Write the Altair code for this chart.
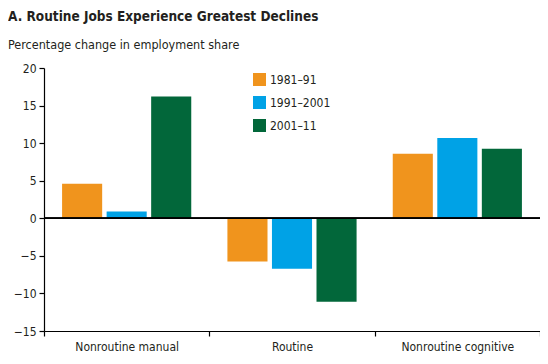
import altair as alt
import pandas as pd

categories = ["Nonroutine manual", "Routine", "Nonroutine cognitive"]
periods = ["1981–91", "1991–2001", "2001–11"]
v1981_91 = [4.6, -5.75, 8.6]
v1991_2001 = [0.9, -6.7, 10.7]
v2001_11 = [16.2, -11.1, 9.25]
colors = ["#F0941D", "#00A2E6", "#02673A"]
y_ticks = [-15, -10, -5, 0, 5, 10, 15, 20]

rows = []
for i, c in enumerate(categories):
    for p, vals in zip(periods, [v1981_91, v1991_2001, v2001_11]):
        rows.append({"category": c, "period": p, "value": vals[i]})
df = pd.DataFrame(rows)

FONT = "'DejaVu Sans Condensed', 'Liberation Sans', sans-serif"
TXT = "#231F20"

y_axis = alt.Axis(title=None, values=y_ticks, tickCount=len(y_ticks), grid=False,
                  tickSize=5, labelPadding=3, labelFontSize=12, labelOverlap=False,
                  labelFlush=False)

bars = alt.Chart(df).mark_bar().encode(
    x=alt.X("category:N", sort=categories,
            scale=alt.Scale(paddingInner=0, paddingOuter=0),
            axis=alt.Axis(title=None, labelAngle=0, tickBand="extent",
                          tickSize=5, labelPadding=5, labelFontSize=12)),
    xOffset=alt.XOffset("period:N", sort=periods,
                        scale=alt.Scale(paddingInner=0.1, paddingOuter=0.406)),
    y=alt.Y("value:Q", scale=alt.Scale(domain=[-15, 20], nice=False, zero=False),
            axis=y_axis),
    color=alt.Color("period:N", sort=periods,
                    scale=alt.Scale(domain=periods, range=colors),
                    legend=alt.Legend(title=None, orient="none", legendX=209, legendY=5,
                                      symbolType="square", symbolSize=169,
                                      symbolStrokeWidth=0, rowPadding=10,
                                      labelOffset=4, labelFontSize=12, padding=0)),
)

zero = alt.Chart(df).mark_rule(color="#000000", strokeWidth=1.2).encode(
    y=alt.datum(0, axis=y_axis))

chart = alt.layer(bars, zero).properties(
    width=496, height=263,
    autosize=alt.AutoSizeParams(type="none"),
    padding={"left": 36, "top": 60, "right": 0, "bottom": 25},
    title=alt.TitleParams(
        text="A. Routine Jobs Experience Greatest Declines",
        subtitle="Percentage change in employment share",
        anchor="start", frame="group", dx=-36, fontSize=13.5, fontWeight="bold",
        subtitleFontSize=12.5, subtitlePadding=15, offset=11,
        font=FONT, subtitleFont=FONT, color=TXT, subtitleColor=TXT,
    ),
).configure_view(stroke=None).configure_axis(
    domainColor="#000000", tickColor="#000000", labelColor=TXT,
    labelFont=FONT, domainWidth=1.2, tickWidth=1.2,
).configure_axisY(labelOverlap=False).configure_legend(labelFont=FONT, labelColor=TXT)

chart.save("out.html", embed_options={"renderer": "svg", "actions": False})
